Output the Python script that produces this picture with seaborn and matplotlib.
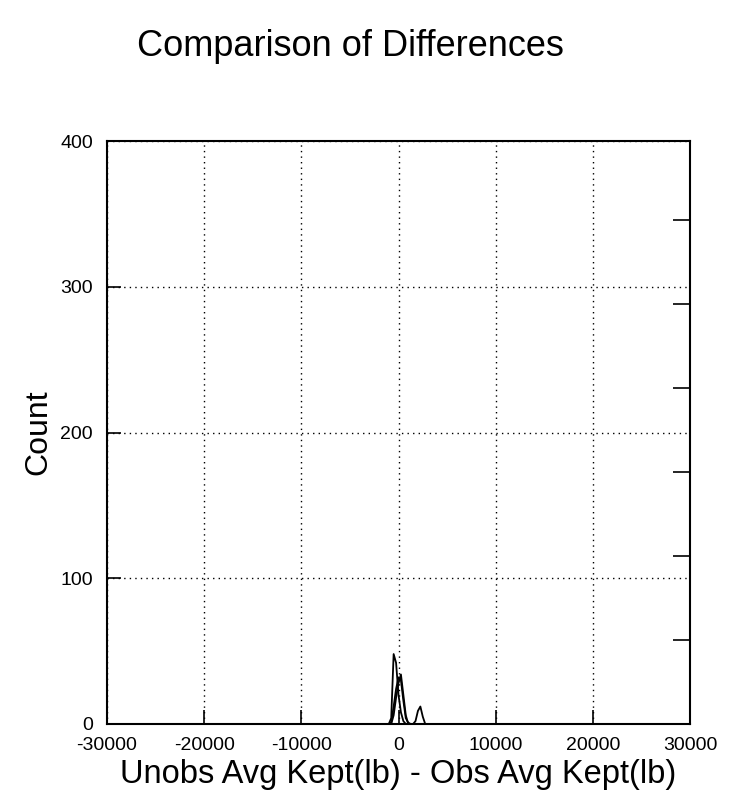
import numpy as np
import pandas as pd
import matplotlib
matplotlib.use("Agg")
import matplotlib.pyplot as plt
import seaborn as sns

# ---- data ----
bin_centers = [-1500, -1250, -1000, -750, -500, -250, 0, 250, 500, 750,
               1000, 1250, 1500, 1750, 2000, 2250, 2500, 2750, 3000]
series_a = [0, 0, 0, 4, 48, 42, 20, 8, 2, 0, 0, 0, 0, 0, 0, 0, 0, 0, 0]
series_b = [0, 0, 0, 1, 12, 24, 32, 30, 16, 4, 1, 0, 0, 0, 0, 0, 0, 0, 0]
series_c = [0, 0, 0, 0, 6, 18, 28, 34, 20, 6, 0, 0, 0, 0, 0, 0, 0, 0, 0]
series_d = [0, 0, 0, 0, 0, 0, 0, 0, 0, 0, 0, 0, 0, 2, 9, 12, 5, 0, 0]

x_ticks = [-30000, -20000, -10000, 0, 10000, 20000, 30000]
y_ticks = [0, 100, 200, 300, 400]
right_ticks = [1, 2, 3, 4, 5, 6]

title = "Comparison of Differences"
x_label = "Unobs Avg Kept(lb) - Obs Avg Kept(lb)"
y_label = "Count"

rows = []
for name, vals in [("a", series_a), ("b", series_b), ("c", series_c), ("d", series_d)]:
    for xv, yv in zip(bin_centers, vals):
        rows.append({"diff": xv, "count": yv, "series": name})
df = pd.DataFrame(rows)

sns.set_style("white")
plt.rcParams["font.family"] = ["Liberation Sans", "DejaVu Sans"]
plt.rcParams["text.color"] = "black"
plt.rcParams["axes.labelcolor"] = "black"
plt.rcParams["xtick.color"] = "black"
plt.rcParams["ytick.color"] = "black"

fig = plt.figure(figsize=(7.34, 8.01), dpi=100)
ax = fig.add_axes([107 / 734, 1 - 724 / 801, (690 - 107) / 734, (724 - 141) / 801])

sns.lineplot(data=df, x="diff", y="count", hue="series",
             palette=["black"] * 4, linewidth=1.3, legend=False, ax=ax,
             estimator=None, sort=True)

ax.set_xlim(-30000, 30000)
ax.set_ylim(0, 400)
ax.set_xticks(x_ticks)
ax.set_yticks(y_ticks)
ax.set_xticklabels([str(t) for t in x_ticks], fontsize=14)
ax.set_yticklabels([str(t) for t in y_ticks], fontsize=14)
ax.grid(True, color="black", linestyle=(0, (1, 3)), linewidth=1.0)
ax.set_axisbelow(True)
ax.tick_params(direction="in", length=10, width=1.2, color="black",
               top=False, right=False, left=True, bottom=True)
ax.tick_params(axis="x", pad=9)
ax.tick_params(axis="y", pad=10)

for sp in ax.spines.values():
    sp.set_color("black")
    sp.set_linewidth(1.5)
    sp.set_visible(True)

ax.set_xlabel(x_label, fontsize=23.5, labelpad=4)
ax.set_ylabel(y_label, fontsize=23, labelpad=5)
fig.text(350 / 734, 1 - 47 / 801, title, fontsize=26, ha="center", va="center",
         color="black")

ax2 = ax.twinx()
ax2.set_ylim(0, 6.94)
ax2.set_yticks(right_ticks)
ax2.set_yticklabels([])
ax2.tick_params(direction="in", length=12, width=1.2, color="black",
                right=True, left=False)
for sp in ax2.spines.values():
    sp.set_visible(False)
ax2.grid(False)

fig.savefig("out.png", dpi=100)
